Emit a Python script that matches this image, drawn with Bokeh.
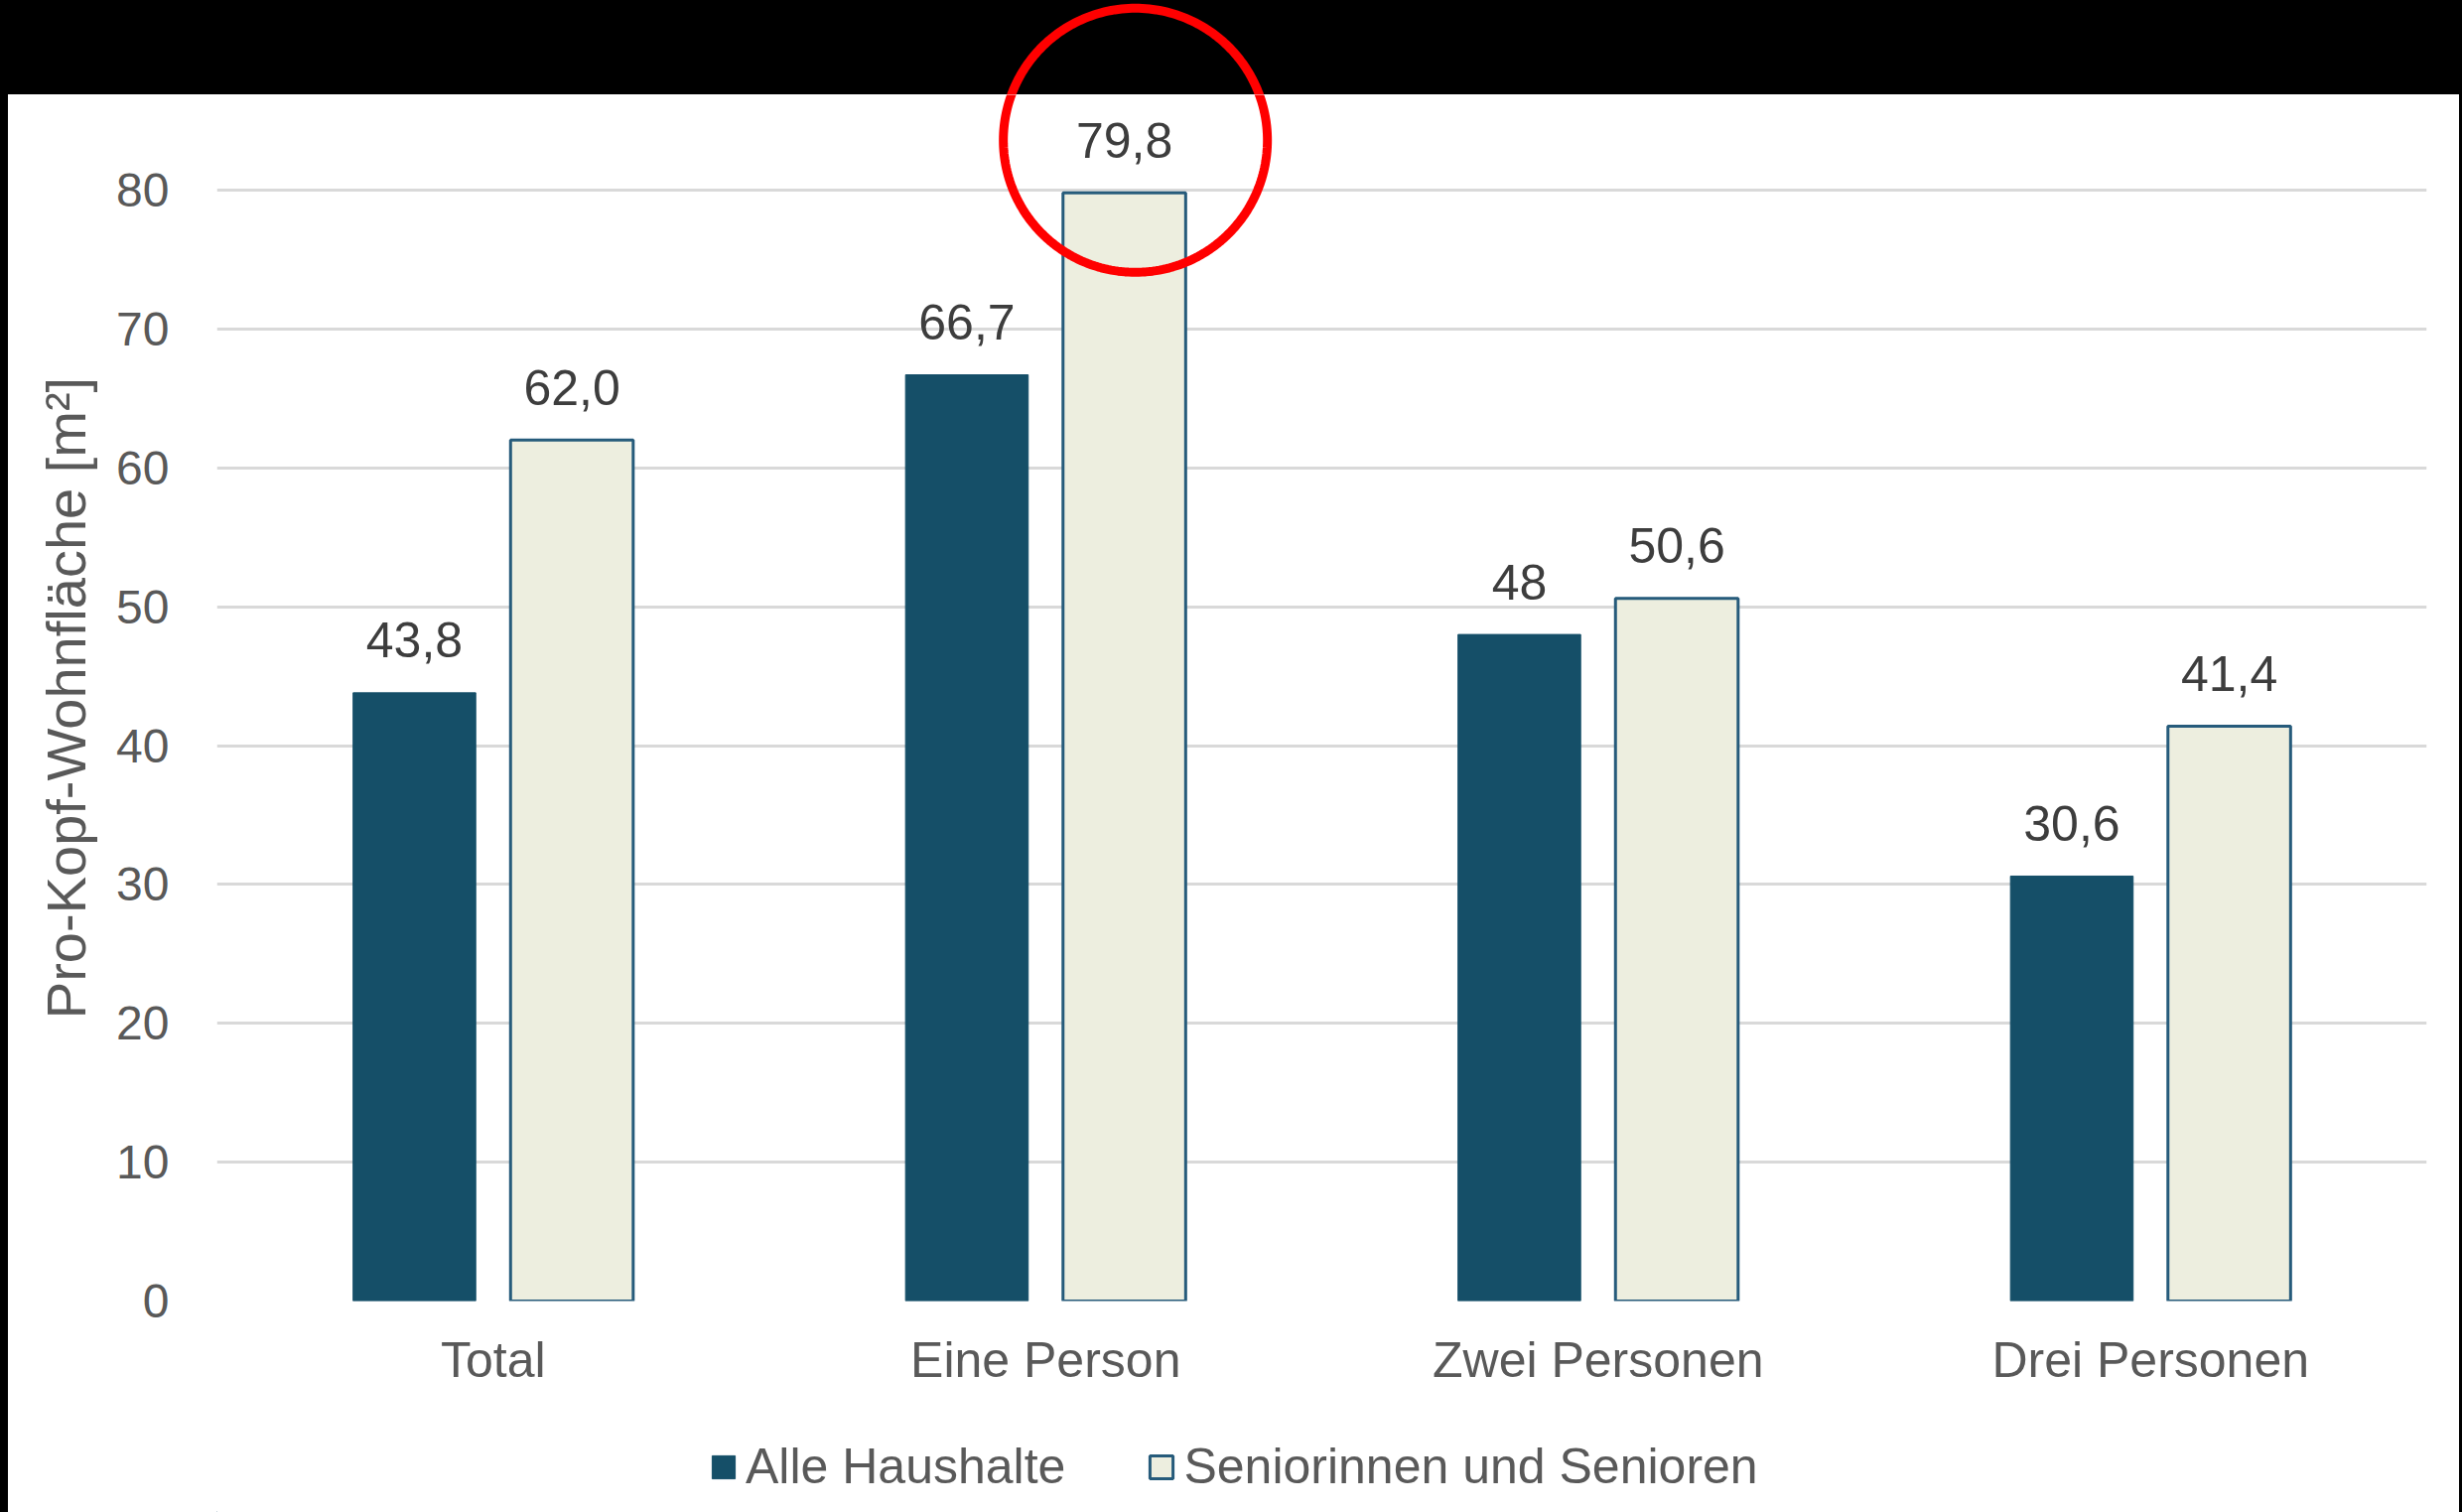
import numpy as np
from bokeh.plotting import figure
from bokeh.layouts import column
from bokeh.models import (ColumnDataSource, FactorRange, Range1d, FixedTicker, Legend,
                          LegendItem)
from bokeh.transform import dodge
from bokeh.core.properties import value
from bokeh.embed import file_html
from bokeh.resources import INLINE

categories = ["Total", "Eine Person", "Zwei Personen", "Drei Personen"]
alle_haushalte = [43.8, 66.7, 48.0, 30.6]
senioren = [62.0, 79.8, 50.6, 41.4]
alle_labels = ["43,8", "66,7", "48", "30,6"]
senioren_labels = ["62,0", "79,8", "50,6", "41,4"]
y_ticks = [0, 10, 20, 30, 40, 50, 60, 70, 80]
series_names = ["Alle Haushalte", "Seniorinnen und Senioren"]
y_label = "Pro-Kopf-Wohnfläche [m²]"
highlight_category = "Eine Person"

DARK = "#154f68"
LIGHT = "#edeedf"
EDGE = "#265b7b"
GRID = "#d9d9d9"
TXT = "#595959"
VAL = "#3d3d3d"
RED = "#ff0000"
FONT = "Liberation Sans"

W, H = 2480, 1523
BAND = 95            # black band on top
LEFT_EDGE, RIGHT_EDGE = 8, 3
MAIN_H = 1335
LEG_H = H - BAND - MAIN_H
FRAME_LEFT, FRAME_RIGHT = 218, 2444
FRAME_H = 1310 - BAND
Y_END = 80 * FRAME_H / 1119.0
PX_PER_UNIT = FRAME_H / Y_END
PX_PER_CAT = (FRAME_RIGHT - FRAME_LEFT) / len(categories)
LABEL_OFF = 53
MW = W - LEFT_EDGE - RIGHT_EDGE
BL = FRAME_LEFT - LEFT_EDGE
BR = MW - (FRAME_RIGHT - LEFT_EDGE)
MARGIN = (0, RIGHT_EDGE, 0, LEFT_EDGE)

xr = FactorRange(*categories, range_padding=0)

src = ColumnDataSource(dict(cat=categories, a=alle_haushalte, s=senioren,
                            al=alle_labels, sl=senioren_labels))

# highlight circle around the label of the highlighted bar
bw = 0.222
off = 0.1425
hi = categories.index(highlight_category)
cx = hi + 0.5 + off + 0.02
cy = senioren[hi] + LABEL_OFF / PX_PER_UNIT
radius_px = 133
t = np.linspace(0, 2 * np.pi, 241)
circle_src = dict(x=list(cx + radius_px / PX_PER_CAT * np.cos(t)),
                  y=list(cy + radius_px / PX_PER_UNIT * np.sin(t)))

# ---- top black band (continues the highlight circle) ----
band = figure(width=MW, height=BAND, x_range=xr,
              y_range=Range1d(Y_END, Y_END + BAND / PX_PER_UNIT),
              output_backend="svg", toolbar_location=None,
              x_axis_type=None, y_axis_type=None,
              min_border_left=BL, min_border_right=BR,
              min_border_top=0, min_border_bottom=0, margin=MARGIN,
              styles={"background-color": "black"})
band.background_fill_color = "black"
band.border_fill_color = "black"
band.outline_line_color = None
band.grid.visible = False
band.line(x="x", y="y", source=ColumnDataSource(circle_src), line_color=RED, line_width=9)

# ---- main chart ----
p = figure(width=MW, height=MAIN_H, x_range=xr, y_range=Range1d(0, Y_END),
           output_backend="svg", toolbar_location=None,
           min_border_left=BL, min_border_right=BR,
           min_border_top=0, min_border_bottom=MAIN_H - FRAME_H, margin=MARGIN,
           styles={"background-color": "white"})
p.outline_line_color = None
p.background_fill_color = "white"
p.border_fill_color = "white"

r1 = p.vbar(x=dodge("cat", -off, range=xr), top="a", width=bw, source=src,
            fill_color=DARK, line_color=DARK, line_width=1)
r2 = p.vbar(x=dodge("cat", off, range=xr), top="s", width=bw, source=src,
            fill_color=LIGHT, line_color=EDGE, line_width=3)

p.text(x=dodge("cat", -off, range=xr), y="a", text="al", source=src,
       text_align="center", text_baseline="middle", y_offset=-LABEL_OFF,
       text_font=value(FONT), text_font_size="50px", text_color=VAL)
p.text(x=dodge("cat", off, range=xr), y="s", text="sl", source=src,
       text_align="center", text_baseline="middle", y_offset=-LABEL_OFF,
       text_font=value(FONT), text_font_size="50px", text_color=VAL)

p.line(x="x", y="y", source=ColumnDataSource(circle_src), line_color=RED, line_width=9)

p.yaxis.ticker = FixedTicker(ticks=y_ticks)
p.yaxis.axis_line_color = None
p.yaxis.major_tick_line_color = None
p.yaxis.minor_tick_line_color = None
p.yaxis.major_label_standoff = 42
p.yaxis.major_label_text_font = FONT
p.yaxis.major_label_text_font_size = "48px"
p.yaxis.major_label_text_color = TXT
p.yaxis.axis_label = y_label
p.yaxis.axis_label_text_font = FONT
p.yaxis.axis_label_text_font_size = "56px"
p.yaxis.axis_label_text_font_style = "normal"
p.yaxis.axis_label_text_color = TXT
p.yaxis.axis_label_standoff = 16

p.xaxis.axis_line_color = None
p.xaxis.major_tick_line_color = None
p.xaxis.major_label_standoff = 25
p.xaxis.major_label_text_font = FONT
p.xaxis.major_label_text_font_size = "50px"
p.xaxis.major_label_text_color = TXT

p.xgrid.grid_line_color = None
p.ygrid.grid_line_color = GRID
p.ygrid.grid_line_width = 3

# ---- legend strip ----
lg = figure(width=MW, height=LEG_H, x_range=Range1d(0, 1), y_range=Range1d(0, 1),
            output_backend="svg", toolbar_location=None,
            x_axis_type=None, y_axis_type=None,
            min_border_left=BL, min_border_right=BR, min_border_top=0, min_border_bottom=0,
            margin=MARGIN, styles={"background-color": "white"})
lg.outline_line_color = None
lg.grid.visible = False
lg.background_fill_color = "white"
lg.border_fill_color = "white"
# legend proxies (placed outside the visible range of the strip)
proxy = ColumnDataSource(dict(x=[-5.0], top=[0.0]))
g1 = lg.vbar(x="x", top="top", width=0.1, source=proxy,
             fill_color=DARK, line_color=DARK, line_width=1)
g2 = lg.vbar(x="x", top="top", width=0.1, source=proxy,
             fill_color=LIGHT, line_color=EDGE, line_width=3)
legend = Legend(items=[LegendItem(label=series_names[0], renderers=[g1]),
                       LegendItem(label=series_names[1], renderers=[g2])],
                orientation="horizontal", location=(714 - FRAME_LEFT, 17),
                label_text_font=FONT, label_text_font_size="50px", label_text_color=TXT,
                glyph_width=29, glyph_height=29, label_standoff=8, spacing=82,
                padding=0, margin=0, border_line_alpha=0, background_fill_alpha=0)
lg.add_layout(legend, "center")

layout = column(band, p, lg, spacing=0, styles={"background-color": "black"})

open("out.html", "w").write(file_html(layout, INLINE))
